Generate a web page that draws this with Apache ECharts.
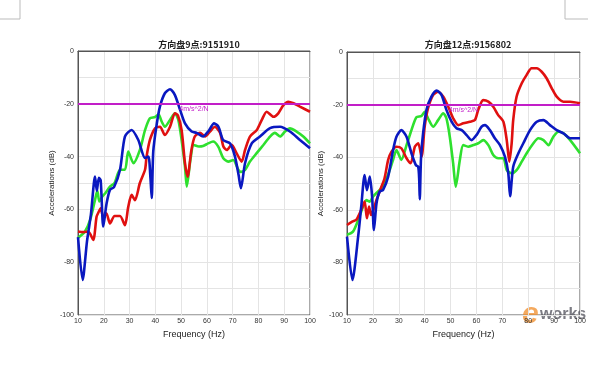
<!DOCTYPE html>
<html><head><meta charset="utf-8">
<script src="https://cdn.jsdelivr.net/npm/echarts@6/dist/echarts.min.js"></script>
<style>html,body{margin:0;padding:0;background:#fff}#c{width:600px;height:365px}</style>
</head><body><div id="c"></div>
<script>
const titles = ['方向盘9点:9151910', '方向盘12点:9156802'];
const xLabel = 'Frequency (Hz)';
const yLabel = 'Accelerations (dB)';
const limitLevel = -20;
const limitText = '4m/s^2/N';

const leftBlue = [[10,-70.5],[11.8,-86.7],[13.5,-72],[15,-62],[16.6,-47.6],[17.3,-53],[18.1,-48],[18.8,-49],[19.8,-66.5],[21.1,-57.7],[22.4,-52.6],[24,-51.5],[26.3,-45],[28.2,-32.4],[30.8,-29.9],[33.4,-33.7],[36,-40.5],[37.3,-40],[38.1,-48],[38.6,-55.7],[39.2,-38],[40.5,-28],[41.8,-21],[43.7,-16],[45.7,-14.5],[47.6,-16.7],[49.6,-22.3],[51.5,-27.4],[54.1,-30.5],[56,-31],[58.5,-32.4],[60.5,-30.5],[62.8,-27.4],[64.5,-28.7],[66.3,-33.7],[69,-35],[70.9,-40],[72.3,-47],[73.2,-52],[74.8,-42.5],[77.4,-35],[80.6,-32.4],[84.5,-29.2],[88.4,-28.7],[92.2,-30.5],[96.1,-33.7],[100,-36.8]];
const leftRed = [[10,-68.4],[12,-68.6],[14,-68.4],[15.9,-71.6],[17.2,-62.8],[18,-61],[18.8,-59.6],[19.8,-63],[21,-61.5],[22.4,-65.3],[24.2,-62.5],[26.3,-62.5],[28.2,-66],[29.5,-59],[30.8,-54.5],[32.1,-56.5],[34,-50],[36,-45],[36.6,-40],[37.9,-33.7],[39.9,-29.3],[41.8,-28.7],[43.7,-31.8],[45.7,-28.7],[47.6,-23.6],[48.8,-24.5],[50.2,-30],[51.5,-42.5],[52.5,-47.6],[54,-37.5],[55.3,-32.4],[57.3,-31],[59.3,-32.4],[61.2,-30.5],[63.1,-28.7],[65.1,-31],[66.4,-36.2],[67.7,-37.5],[69.6,-35.5],[71.5,-38.7],[73.5,-41.9],[74.8,-37.5],[76.7,-32.4],[79.3,-30],[81.3,-26.1],[83.2,-23],[85.8,-24.9],[87.7,-23.6],[89.7,-20.5],[91.6,-19.2],[93.6,-19.8],[96.1,-21.1],[100,-23]];
const leftGreen = [[10,-70.8],[12.7,-68.4],[14.7,-64],[16.6,-56.4],[17.5,-53],[18.3,-57],[19.5,-55],[20.5,-54],[22.4,-51.4],[24.2,-50],[26.3,-45],[28.2,-45],[29.5,-38.1],[31.5,-42.5],[34,-37.5],[36,-30],[37.9,-25.5],[39.9,-25],[41.2,-24],[42.5,-26.8],[43.7,-28.7],[45.7,-26.1],[47.6,-23.6],[48.9,-26],[50.2,-33.7],[51.5,-43.8],[52.2,-51.4],[53.6,-41.3],[54.9,-35.6],[56.9,-36.2],[58.5,-36],[60.5,-35],[62.4,-34.3],[64.4,-36.2],[66.3,-40.5],[68.3,-41.9],[70.2,-41.3],[72.2,-45],[73.2,-45.8],[74.8,-45],[76.7,-41.9],[79.3,-38.7],[81.9,-35.6],[84.5,-32.4],[86.4,-31],[88.4,-32.4],[90.3,-30.5],[92.2,-29.3],[94.8,-30.5],[97.4,-32.4],[100,-35]];

const rightRed = [[10,-65.8],[12,-64.5],[13.6,-63.8],[15.5,-60],[16.8,-56.9],[17.7,-63.2],[18.5,-58.8],[19.3,-62],[20.2,-60],[21.5,-56],[23,-52],[24.5,-48],[25.9,-41],[27.2,-37.9],[29.1,-36],[31,-36.6],[33,-40.4],[34.6,-42.3],[36.2,-36],[37.5,-34.7],[38.8,-39.8],[40,-28.4],[41.3,-21.4],[43.3,-16.3],[45.2,-15.1],[47.2,-17],[49.1,-20.8],[51,-25.2],[53,-27.8],[54.9,-27.1],[57.5,-26.5],[59.4,-25.9],[60.7,-22],[62.6,-18.3],[64.6,-18.9],[66.5,-20.8],[68.4,-24],[70.4,-26.5],[71.7,-33.5],[72.7,-41.7],[73.6,-34.7],[74.2,-25.9],[75.5,-17],[77.5,-11.9],[79.4,-8.7],[81.3,-6.2],[83.3,-6.2],[85.2,-7.5],[87.1,-10],[89.1,-13.8],[91,-17],[93.6,-18.9],[96.2,-18.9],[100,-19.5]];
const rightBlue = [[10,-70.2],[12.1,-86.7],[14.3,-70.2],[15.5,-58.8],[16.8,-46.8],[17.7,-52.5],[18.8,-47.4],[19.7,-55],[20.4,-67.7],[21.4,-57.5],[22.6,-53.1],[23.9,-52.5],[25.9,-47.4],[27.8,-37.3],[29.1,-32.2],[31,-29.7],[33,-32.2],[34.9,-38.5],[36.6,-43],[37.5,-43.6],[37.9,-48.7],[38.1,-56],[38.6,-40],[39.4,-30.9],[40.7,-22],[42.6,-17],[44.6,-14.7],[46.5,-16.3],[48.4,-22],[50.4,-26.5],[52.3,-29],[54.3,-29.7],[56.2,-31.6],[58.1,-33.5],[60,-31.6],[62,-28.4],[63.3,-27.8],[65.2,-29.7],[67.1,-32.8],[69.1,-35.4],[71,-39.8],[72.3,-46.1],[73,-54.8],[74.2,-43.6],[76.2,-38.5],[78.1,-34.7],[80.7,-29.7],[83.3,-26.5],[85.9,-25.9],[88.4,-27.8],[91,-29.7],[93.6,-30.9],[96.2,-32.8],[100,-32.8]];
const rightGreen = [[10,-69.5],[12.3,-68.3],[14.3,-63.9],[16.2,-58.8],[17.5,-56.3],[18.8,-56.9],[20,-55],[22,-53],[23.9,-51.2],[26.5,-44.9],[27.8,-41],[29.1,-37.3],[31,-41],[33,-35.4],[34.9,-29.7],[36.8,-24.8],[38.8,-24.3],[40,-22.7],[41.3,-25.2],[43.3,-28.4],[45.2,-25.9],[47.2,-23.3],[48.4,-25.2],[49.7,-32.2],[51,-42.3],[52,-51.2],[53.6,-41],[54.9,-35.4],[56.8,-36],[58.8,-35.4],[60.7,-34.7],[62.6,-33.5],[64.6,-35.4],[66.5,-39.2],[68.4,-40.4],[70.4,-40.4],[71.7,-44.9],[73.6,-46.1],[75.5,-44.9],[77.5,-41.7],[79.4,-38.5],[82,-34.7],[83.9,-32.8],[85.9,-33.5],[87.8,-35.4],[89.7,-32.2],[91.7,-30.3],[93.6,-30.9],[96.2,-33.5],[100,-38.5]];

const FONT = 'Liberation Sans, Arial, sans-serif';
const chart = echarts.init(document.getElementById('c'));
const grids = [
  {left: 78, top: 51, width: 232, height: 264},
  {left: 347, top: 52, width: 233, height: 263}
];
function xA(i){return {gridIndex:i,type:'value',min:10,max:100,interval:10,
  name:xLabel,nameLocation:'middle',nameGap:14,nameTextStyle:{fontSize:9,color:'#222',fontFamily:FONT},
  axisLine:{lineStyle:{color:'#555',width:1}},axisTick:{show:false},
  axisLabel:{fontSize:7,color:'#333',margin:3,fontFamily:FONT},
  splitLine:{lineStyle:{color:'#e4e4e4',width:1}}};}
function yA(i){return {gridIndex:i,type:'value',min:-100,max:0,interval:10,
  name:yLabel,nameLocation:'middle',nameGap:21,nameRotate:90,nameTextStyle:{fontSize:8,color:'#222',fontFamily:FONT},
  axisLine:{lineStyle:{color:'#555',width:1}},axisTick:{show:false},
  axisLabel:{fontSize:7,color:'#333',margin:4,fontFamily:FONT,formatter:v=>(v%20===0?String(v):'')},
  splitLine:{lineStyle:{color:'#e4e4e4',width:1}}};}
function line(i,data,color,extra){return Object.assign({type:'line',xAxisIndex:i,yAxisIndex:i,data:data,
  showSymbol:false,smooth:0.25,lineStyle:{color:color,width:2.6},itemStyle:{color:color},animation:false},extra||{});}
function limitSeries(i){return {type:'line',xAxisIndex:i,yAxisIndex:i,data:[],animation:false,
  markLine:{silent:true,symbol:'none',data:[{yAxis:limitLevel}],
    lineStyle:{color:'#c21ec8',width:2.2,type:'solid'},
    label:{show:true,position:'insideMiddleBottom',formatter:limitText,color:'#c21ec8',fontSize:7,distance:2,fontFamily:FONT}}};}
const series=[];
[[leftGreen,leftRed,leftBlue],[rightGreen,rightRed,rightBlue]].forEach((s,i)=>{
  series.push(limitSeries(i));
  series.push(line(i,s[0],'#2ee02e'));
  series.push(line(i,s[1],'#e01010'));
  series.push(line(i,s[2],'#0a18c0'));
});
chart.setOption({
  backgroundColor:'#fff',
  animation:false,
  title:[
    {text:titles[0],left:194,top:35,textAlign:'center',textStyle:{fontSize:9,fontWeight:'bold',color:'#222',fontFamily:'Noto Sans CJK SC, sans-serif'}},
    {text:titles[1],left:463,top:35,textAlign:'center',textStyle:{fontSize:9,fontWeight:'bold',color:'#222',fontFamily:'Noto Sans CJK SC, sans-serif'}}
  ],
  grid:grids.map(g=>Object.assign({show:true,borderColor:'#555',borderWidth:1,backgroundColor:'#fff'},g)),
  xAxis:[xA(0),xA(1)],
  yAxis:[yA(0),yA(1)],
  series:series,
  graphic:[
    {type:'polyline',shape:{points:[[0,19],[20,19],[20,0]]},style:{stroke:'#bbb',lineWidth:1,fill:null}},
    {type:'polyline',shape:{points:[[588,19],[565,19],[565,0]]},style:{stroke:'#bbb',lineWidth:1,fill:null}},
    {type:'text',left:522,top:300,style:{text:'e',fill:'rgba(240,140,40,0.75)',font:'italic bold 30px '+FONT}},
    {type:'text',left:540,top:307,style:{text:'works',fill:'rgba(90,90,100,0.8)',font:'bold 16px '+FONT}}
  ]
});
</script></body></html>
